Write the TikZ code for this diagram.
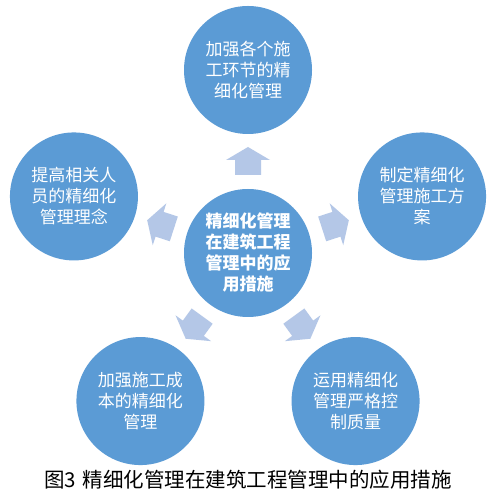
\documentclass[tikz,border=0pt]{standalone}
\usepackage{fontspec}
\setmainfont{Noto Sans CJK SC}
\usetikzlibrary{calc}
\definecolor{circblue}{RGB}{91,155,213}
\definecolor{arrowblue}{RGB}{180,199,231}
\tikzset{
  bubble/.style={circle, fill=circblue, minimum size=128pt, inner sep=0pt,
    text=white, align=center, font=\fontsize{17pt}{21pt}\selectfont},
  centerbubble/.style={bubble, font=\fontsize{17pt}{21pt}\selectfont\bfseries},
  blockarrow/.style={fill=arrowblue}
}
\begin{document}
\begin{tikzpicture}[x=1pt,y=1pt]
\useasboundingbox (0,0) rectangle (502,500);
\fill[white] (0,0) rectangle (502,500);
\coordinate (c) at (248,247);
\node[centerbubble] (ctr) at (c) {精细化管理\\在建筑工程\\管理中的应\\用措施};
\node[bubble] (top) at ($(c)+(90:183)$) {加强各个施\\工环节的精\\细化管理};
\node[bubble] (right) at ($(c)+(18:183)$) {制定精细化\\管理施工方\\案};
\node[bubble] (bright) at ($(c)+(-54:183)$) {运用精细化\\管理严格控\\制质量};
\node[bubble] (bleft) at ($(c)+(-126:183)$) {加强施工成\\本的精细化\\管理};
\node[bubble] (left) at ($(c)+(162:183)$) {提高相关人\\员的精细化\\管理理念};
\foreach \a in {90,18,-54,-126,162}{
  \fill[blockarrow, shift={(c)}, rotate=\a-90]
    (-13,78) -- (13,78) -- (13,93) -- (22,93) -- (0,106) -- (-22,93) -- (-13,93) -- cycle;
}
\node[font=\fontsize{20.5pt}{24pt}\selectfont, text=black] (cap) at (248,20) {图3\hspace{7pt}精细化管理在建筑工程管理中的应用措施};
\end{tikzpicture}
\end{document}
